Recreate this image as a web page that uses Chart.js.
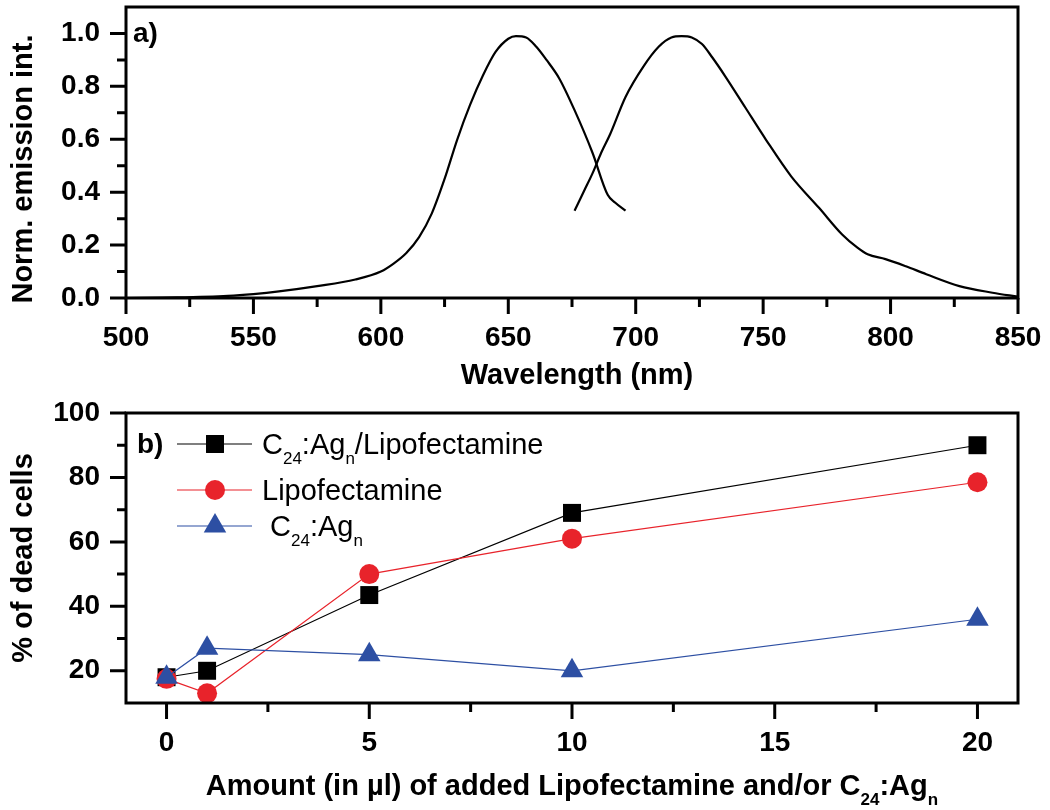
<!DOCTYPE html>
<html>
<head>
<meta charset="utf-8">
<script src="https://cdn.jsdelivr.net/npm/chart.js@4.4.1/dist/chart.umd.min.js"></script>
<style>
  body { margin: 0; background: #fff; }
  #boxA { position: absolute; left: 0; top: 0; width: 1050px; height: 400px; }
  #boxB { position: absolute; left: 0; top: 400px; width: 1050px; height: 410px; }
</style>
</head>
<body>
<div id="boxA"><canvas id="spec" width="1050" height="400"></canvas></div>
<div id="boxB"><canvas id="dead" width="1050" height="410"></canvas></div>
<script>
// a) normalised emission spectra
const waveA = [500, 520, 540, 550, 560, 575, 590, 600, 605, 610, 615, 620, 625, 630, 635, 640, 645, 650, 653, 657, 661, 665, 670, 676, 683, 689, 692, 696];
const emisA = [0, 0.002, 0.008, 0.015, 0.025, 0.045, 0.07, 0.10, 0.13, 0.17, 0.23, 0.32, 0.45, 0.60, 0.73, 0.84, 0.93, 0.98, 0.99, 0.985, 0.95, 0.90, 0.83, 0.71, 0.55, 0.39, 0.36, 0.33];
const waveB = [676, 680, 683, 686.5, 690, 696, 703, 709, 714, 718, 722, 726, 730, 735, 743, 751, 761, 772, 781, 787, 791, 798, 806, 814, 827, 840, 850];
const emisB = [0.33, 0.41, 0.47, 0.55, 0.62, 0.76, 0.875, 0.95, 0.985, 0.99, 0.985, 0.96, 0.91, 0.84, 0.72, 0.60, 0.46, 0.34, 0.24, 0.19, 0.165, 0.147, 0.12, 0.09, 0.045, 0.02, 0.005];

const waveTicks = [500, 550, 600, 650, 700, 750, 800, 850];
const waveMinor = [525, 575, 625, 675, 725, 775, 825];
const emisTicks = [0, 0.2, 0.4, 0.6, 0.8, 1.0];
const emisMinor = [0.1, 0.3, 0.5, 0.7, 0.9];

// b) % of dead cells vs added amount (µl)
const doseX = [0, 1, 5, 10, 20];
const deadMix = [18, 20, 43.5, 69, 90];
const deadLipo = [17.5, 13, 50, 61, 78.5];
const deadAg = [18, 27, 25, 20, 36];

const doseTicks = [0, 5, 10, 15, 20];
const doseMinor = [2.5, 7.5, 12.5, 17.5];
const deadTicks = [20, 40, 60, 80, 100];
const deadMinor = [30, 50, 70, 90];

const FONT = "'Liberation Sans', Arial, sans-serif";
const tickFont = { family: FONT, size: 28, weight: 'bold' };

// text with subscripts: parts = [{t, sub}]
function richText(ctx, parts, x, y, size, weight, align) {
  const subSize = Math.round(size * 0.6);
  const widths = parts.map(p => {
    ctx.font = weight + ' ' + (p.sub ? subSize : size) + 'px ' + FONT;
    return ctx.measureText(p.t).width;
  });
  const total = widths.reduce((a, b) => a + b, 0);
  let cx = align === 'center' ? x - total / 2 : x;
  ctx.textAlign = 'left';
  ctx.textBaseline = 'alphabetic';
  parts.forEach((p, i) => {
    ctx.font = weight + ' ' + (p.sub ? subSize : size) + 'px ' + FONT;
    ctx.fillText(p.t, cx, p.sub ? y + size * 0.33 : y);
    cx += widths[i];
  });
}

function vText(ctx, txt, x, y, size) {
  ctx.save();
  ctx.translate(x, y);
  ctx.rotate(-Math.PI / 2);
  ctx.font = 'bold ' + size + 'px ' + FONT;
  ctx.textAlign = 'center';
  ctx.textBaseline = 'alphabetic';
  ctx.fillText(txt, 0, 0);
  ctx.restore();
}

// frame + outward major/minor ticks
function axisDecor(xMinor, yMinor) {
  return {
    id: 'axisDecor',
    afterDraw(chart) {
      const { ctx, chartArea: a, scales } = chart;
      ctx.save();
      ctx.strokeStyle = '#000';
      ctx.lineWidth = 3;
      ctx.strokeRect(a.left, a.top, a.right - a.left, a.bottom - a.top);
      ctx.beginPath();
      scales.x.ticks.forEach(t => {
        const px = scales.x.getPixelForValue(t.value);
        ctx.moveTo(px, a.bottom); ctx.lineTo(px, a.bottom + 16);
      });
      xMinor.forEach(v => {
        const px = scales.x.getPixelForValue(v);
        ctx.moveTo(px, a.bottom); ctx.lineTo(px, a.bottom + 9);
      });
      scales.y.ticks.forEach(t => {
        const py = scales.y.getPixelForValue(t.value);
        ctx.moveTo(a.left, py); ctx.lineTo(a.left - 16, py);
      });
      yMinor.forEach(v => {
        const py = scales.y.getPixelForValue(v);
        ctx.moveTo(a.left, py); ctx.lineTo(a.left - 9, py);
      });
      ctx.stroke();
      ctx.restore();
    }
  };
}

function noPad(s) { s.paddingTop = 0; s.paddingBottom = 0; s.paddingLeft = 0; s.paddingRight = 0; }

function scaleX(min, max, ticks, height) {
  return {
    type: 'linear', min: min, max: max,
    grid: { display: false, drawTicks: false }, border: { display: false },
    afterBuildTicks: s => { s.ticks = ticks.map(v => ({ value: v })); },
    afterFit: s => { s.height = height; noPad(s); },
    ticks: { padding: 23, font: tickFont, color: '#000', maxRotation: 0, autoSkip: false }
  };
}
function scaleY(min, max, ticks, fmt) {
  return {
    type: 'linear', min: min, max: max,
    grid: { display: false, drawTicks: false }, border: { display: false },
    afterBuildTicks: s => { s.ticks = ticks.map(v => ({ value: v })); },
    afterFit: s => { s.width = 126; noPad(s); },
    ticks: { padding: 26, font: tickFont, color: '#000', autoSkip: false, callback: fmt }
  };
}

const specText = {
  id: 'specText',
  afterDraw(chart) {
    const ctx = chart.ctx;
    ctx.save();
    ctx.fillStyle = '#000';
    richText(ctx, [{ t: 'a)' }], 133, 42, 28, 'bold', 'left');
    richText(ctx, [{ t: 'Wavelength (nm)' }], 577, 384, 29, 'bold', 'center');
    vText(ctx, 'Norm. emission int.', 32, 169, 29);
    ctx.restore();
  }
};

new Chart(document.getElementById('spec'), {
  type: 'line',
  data: {
    datasets: [
      { data: waveA.map((x, i) => ({ x: x, y: emisA[i] })), borderColor: '#000', borderWidth: 2.2,
        pointRadius: 0, cubicInterpolationMode: 'monotone', fill: false },
      { data: waveB.map((x, i) => ({ x: x, y: emisB[i] })), borderColor: '#000', borderWidth: 2.2,
        pointRadius: 0, cubicInterpolationMode: 'monotone', fill: false }
    ]
  },
  options: {
    responsive: false, animation: false, events: [],
    layout: { padding: { top: 7, right: 32, left: 0, bottom: 0 } },
    plugins: { legend: { display: false }, tooltip: { enabled: false } },
    scales: {
      x: scaleX(500, 850, waveTicks, 102),
      y: scaleY(0, 1.1, emisTicks, v => Number(v).toFixed(1))
    }
  },
  plugins: [axisDecor(waveMinor, emisMinor), specText]
});

const legendRows = [
  { parts: [{ t: 'C' }, { t: '24', sub: 1 }, { t: ':Ag' }, { t: 'n', sub: 1 }, { t: '/Lipofectamine' }], y: 44, color: '#000', shape: 'rect' },
  { parts: [{ t: 'Lipofectamine' }], y: 90, color: '#e8232b', shape: 'circle' },
  { parts: [{ t: ' C' }, { t: '24', sub: 1 }, { t: ':Ag' }, { t: 'n', sub: 1 }], y: 126, color: '#2d4fa3', shape: 'triangle' }
];

function marker(ctx, shape, x, y) {
  ctx.beginPath();
  if (shape === 'rect') {
    const h = 12.7 * Math.SQRT1_2;
    ctx.rect(x - h, y - h, 2 * h, 2 * h);
  } else if (shape === 'circle') {
    ctx.arc(x, y, 10, 0, Math.PI * 2);
  } else {
    const r = 13;
    ctx.moveTo(x, y - r);
    ctx.lineTo(x + r * 0.866, y + r / 2);
    ctx.lineTo(x - r * 0.866, y + r / 2);
    ctx.closePath();
  }
  ctx.fill();
}

const deadText = {
  id: 'deadText',
  afterDraw(chart) {
    const ctx = chart.ctx;
    ctx.save();
    ctx.fillStyle = '#000';
    richText(ctx, [{ t: 'b)' }], 137, 53, 28, 'bold', 'left');
    legendRows.forEach(r => {
      ctx.strokeStyle = r.color;
      ctx.lineWidth = 1.2;
      ctx.beginPath(); ctx.moveTo(177, r.y); ctx.lineTo(252, r.y); ctx.stroke();
      ctx.fillStyle = r.color;
      marker(ctx, r.shape, 215, r.y);
      ctx.fillStyle = '#000';
      richText(ctx, r.parts, 262, r.y + 10, 29, 'normal', 'left');
    });
    richText(ctx, [{ t: 'Amount (in µl) of added Lipofectamine and/or C' }, { t: '24', sub: 1 }, { t: ':Ag' }, { t: 'n', sub: 1 }],
      572, 395, 29, 'bold', 'center');
    vText(ctx, '% of dead cells', 32, 158, 29);
    ctx.restore();
  }
};

new Chart(document.getElementById('dead'), {
  type: 'line',
  data: {
    datasets: [
      { label: 'C24:Agn/Lipofectamine', data: doseX.map((x, i) => ({ x: x, y: deadMix[i] })),
        borderColor: '#000', backgroundColor: '#000', borderWidth: 1.2,
        pointStyle: 'rect', pointRadius: 12.7, pointBorderWidth: 0, order: 3 },
      { label: 'Lipofectamine', data: doseX.map((x, i) => ({ x: x, y: deadLipo[i] })),
        borderColor: '#e8232b', backgroundColor: '#e8232b', borderWidth: 1.2,
        pointStyle: 'circle', pointRadius: 10, pointBorderWidth: 0, order: 2 },
      { label: 'C24:Agn', data: doseX.map((x, i) => ({ x: x, y: deadAg[i] })),
        borderColor: '#2d4fa3', backgroundColor: '#2d4fa3', borderWidth: 1.2,
        pointStyle: 'triangle', pointRadius: 13, pointBorderWidth: 0, order: 1 }
    ]
  },
  options: {
    responsive: false, animation: false, events: [],
    layout: { padding: { top: 12, right: 32, left: 0, bottom: 0 } },
    plugins: { legend: { display: false }, tooltip: { enabled: false } },
    scales: {
      x: scaleX(-1, 21, doseTicks, 107),
      y: scaleY(10, 100, deadTicks, v => String(v))
    }
  },
  plugins: [axisDecor(doseMinor, deadMinor), deadText]
});
</script>
</body>
</html>
